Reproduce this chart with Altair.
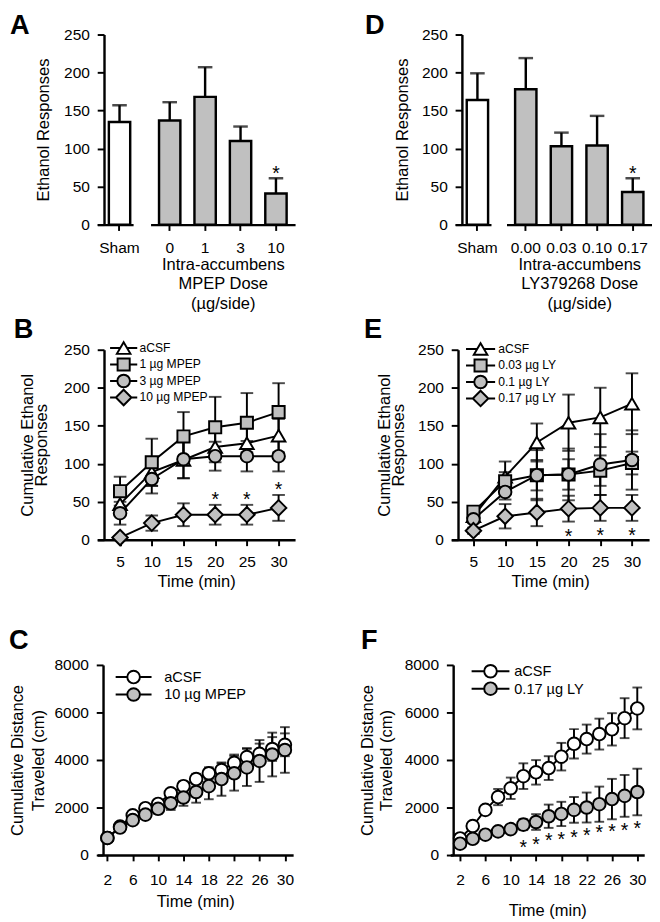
import altair as alt
import pandas as pd

FONT = "Liberation Sans"
GRAY = "#c0c0c0"

# ---------------- Panel A : MPEP dose response ----------------
a_cats = ["Sham", "0", "1", "3", "10"]
a_mean = [135, 137, 168, 110, 41]
a_sem = [22, 24, 39, 19, 20]
a_sig = [False, False, False, False, True]

# ---------------- Panel D : LY379268 dose response ----------------
d_cats = ["Sham", "0.00", "0.03", "0.10", "0.17"]
d_mean = [164, 178, 103, 104, 43]
d_sem = [35, 41, 18, 39, 18]
d_sig = [False, False, False, False, True]

# ---------------- Panel B : cumulative responses, MPEP ----------------
b_time = [5, 10, 15, 20, 25, 30]
b_series = ["aCSF", "1 µg MPEP", "3 µg MPEP", "10 µg MPEP"]
b_acsf_mean = [47, 89, 105, 122, 127, 137]
b_acsf_sem = [12, 18, 24, 20, 20, 22]
b_1_mean = [64, 102, 136, 148, 154, 168]
b_1_sem = [19, 31, 32, 40, 39, 38]
b_3_mean = [35, 80, 106, 110, 110, 110]
b_3_sem = [15, 19, 25, 19, 20, 20]
b_10_mean = [3, 22, 33, 33, 33, 42]
b_10_sem = [2, 10, 15, 13, 13, 17]
b_sig_series = "10 µg MPEP"
b_sig_time = [20, 25, 30]

# ---------------- Panel E : cumulative responses, LY ----------------
e_time = [5, 10, 15, 20, 25, 30]
e_series = ["aCSF", "0.03 µg LY", "0.1 µg LY", "0.17 µg LY"]
e_acsf_mean = [31, 83, 128, 154, 161, 179]
e_acsf_sem = [6, 20, 25, 37, 39, 40]
e_003_mean = [37, 77, 85, 86, 91, 101]
e_003_sem = [5, 12, 20, 20, 20, 15]
e_01_mean = [27, 63, 85, 86, 99, 105]
e_01_sem = [5, 10, 33, 34, 40, 39]
e_017_mean = [12, 31, 36, 41, 42, 42]
e_017_sem = [4, 16, 18, 17, 17, 17]
e_sig_series = "0.17 µg LY"
e_sig_time = [20, 25, 30]

# ---------------- Panel C : locomotion, MPEP ----------------
c_time = [2, 4, 6, 8, 10, 12, 14, 16, 18, 20, 22, 24, 26, 28, 30]
c_series = ["aCSF", "10 µg MPEP"]
c_acsf_mean = [720, 1197, 1673, 1973, 2150, 2599, 2898, 3197, 3442, 3578, 3878, 4122, 4259, 4463, 4640]
c_acsf_sem = [60, 80, 100, 120, 150, 180, 200, 220, 250, 280, 350, 380, 430, 500, 480]
c_mpep_mean = [720, 1156, 1469, 1701, 1946, 2177, 2422, 2653, 2898, 3197, 3442, 3687, 3959, 4231, 4422]
c_mpep_sem = [80, 100, 120, 150, 200, 280, 350, 450, 550, 700, 730, 780, 880, 920, 960]

# ---------------- Panel F : locomotion, LY ----------------
f_time = [2, 4, 6, 8, 10, 12, 14, 16, 18, 20, 22, 24, 26, 28, 30]
f_series = ["aCSF", "0.17 µg LY"]
f_acsf_mean = [700, 1220, 1900, 2440, 2810, 3320, 3480, 3660, 4140, 4680, 4880, 5090, 5290, 5760, 6170]
f_acsf_sem = [60, 80, 120, 340, 450, 540, 515, 500, 580, 620, 610, 650, 680, 840, 880]
f_ly_mean = [478, 682, 857, 996, 1090, 1280, 1390, 1633, 1730, 1900, 2000, 2140, 2355, 2490, 2653]
f_ly_sem = [50, 60, 80, 120, 150, 230, 330, 490, 510, 545, 630, 740, 850, 880, 980]
f_star_time = [12, 14, 16, 18, 20, 22, 24, 26, 28, 30]
f_star_level = [550, 680, 820, 890, 955, 1050, 1160, 1220, 1265, 1320]

# ---------------- marker shapes (unit = 5 px at size 100) ----------------
TRI = "M0,-1.2L1.4,1.2L-1.4,1.2Z"
SQR = "M-1.25,-1.25H1.25V1.25H-1.25Z"
CIR = ("M1.3,0C1.3,0.718,0.718,1.3,0,1.3C-0.718,1.3,-1.3,0.718,-1.3,0"
       "C-1.3,-0.718,-0.718,-1.3,0,-1.3C0.718,-1.3,1.3,-0.718,1.3,0Z")
DIA = "M0,-1.6L1.6,0L0,1.6L-1.6,0Z"


def with_line(marker, half, reach):
    return f"M-{reach},0H-{half}M{half},0H{reach}" + marker


def title_letter(letter, dx, off):
    return alt.TitleParams(letter, anchor="start", frame="group", dx=dx, offset=off,
                           fontSize=28, fontWeight="bold", font=FONT, color="black")


# ---------------- bar panels ----------------
def bar_pair(cats, means, sems, sig, letter, letter_dx, letter_off, xtitle, yoff, inner_space, dose_w,
             ytitle_pad):
    df = pd.DataFrame({"cat": cats, "mean": means, "sem": sems, "sig": sig})
    df["hi"] = df["mean"] + df["sem"]
    yscale = alt.Scale(domain=[0, 250], nice=False)

    def build(data, fill, xscale, xaxis, yaxis, width):
        xenc = alt.X("cat:N", sort=list(data["cat"]), scale=xscale, axis=xaxis)
        base = alt.Chart(data).encode(x=xenc)
        err = base.mark_rule(color="black", strokeWidth=2.5).encode(
            y=alt.Y("mean:Q", scale=yscale, axis=yaxis), y2="hi:Q")
        cap = base.mark_tick(orient="horizontal", color="black", thickness=2.5, size=15).encode(
            y=alt.Y("hi:Q", scale=yscale, axis=yaxis))
        bar = base.mark_bar(size=22, fill=fill, stroke="black", strokeWidth=2.5).encode(
            y=alt.Y("mean:Q", scale=yscale, axis=yaxis))
        star = base.transform_filter("datum.sig").mark_text(
            text="*", fontSize=20, font=FONT, baseline="middle", dy=-4, color="black").encode(
            y=alt.Y("hi:Q", scale=yscale, axis=yaxis))
        return alt.layer(err, cap, bar, star).properties(width=width, height=196)

    sham = build(
        df.iloc[:1], "white",
        alt.Scale(paddingInner=0, paddingOuter=0.5, align=0.743),
        alt.Axis(title=None, labelAngle=0, tickSize=6, labelPadding=10, labelOverlap=False),
        alt.Axis(values=[0, 50, 100, 150, 200, 250], title="Ethanol Responses", offset=yoff,
                 tickSize=7, labelPadding=8, titlePadding=ytitle_pad, labelOverlap=False),
        37,
    ).properties(title=title_letter(letter, letter_dx, letter_off))
    dose = build(
        df.iloc[1:], GRAY,
        alt.Scale(paddingInner=0, paddingOuter=0.04),
        alt.Axis(title=xtitle, labelAngle=0, tickSize=6, labelPadding=10, labelOverlap=False,
                 titlePadding=1, titleLineHeight=20),
        None,
        dose_w,
    )
    return alt.hconcat(sham, dose, spacing=inner_space)


# ---------------- line panels ----------------
def line_panel(time, series, means, sems, shapes, fills, legend_paths, xdom, xticks, ydom, yticks,
               ytitle, ytitle_lh, ytitle_pad, yoff, width, capw, letter, letter_dx, letter_off,
               legend_x, legend_y, legend_font, legend_row, label_off, x_lab_pad, x_title_pad,
               star_series=None, star_time=None, star_side="hi", star_levels=None):
    rows = []
    for s, m_list, e_list in zip(series, means, sems):
        for t, m, e in zip(time, m_list, e_list):
            rows.append({"series": s, "t": t, "mean": m, "sem": e})
    df = pd.DataFrame(rows)
    df["lo"] = df["mean"] - df["sem"]
    df["hi"] = df["mean"] + df["sem"]

    xs = alt.Scale(domain=xdom, nice=False, zero=False)
    ys = alt.Scale(domain=ydom, nice=False)
    xaxis = alt.Axis(values=xticks, title="Time (min)", tickSize=6, labelPadding=x_lab_pad,
                     titlePadding=x_title_pad, labelFlush=False, labelOverlap=False)
    yaxis = alt.Axis(values=yticks, title=ytitle, titleLineHeight=ytitle_lh, titlePadding=ytitle_pad,
                     offset=yoff, tickSize=7, labelPadding=8, format="d", labelOverlap=False)

    def X():
        return alt.X("t:Q", scale=xs, axis=xaxis)

    def Y(field):
        return alt.Y(field, scale=ys, axis=yaxis)

    leg = alt.Legend(
        title=None, orient="none", legendX=legend_x, legendY=legend_y,
        symbolSize=100, labelFontSize=legend_font, labelFont=FONT, labelColor="black",
        rowPadding=legend_row, labelOffset=label_off, padding=0,
        symbolStrokeColor="black", symbolStrokeWidth=2, symbolOpacity=1,
    )

    base = alt.Chart(df).encode(x=X())
    line = base.mark_line(color="black", strokeWidth=2).encode(y=Y("mean:Q"), detail="series:N")
    rule = base.mark_rule(color="black", strokeWidth=2).encode(y=Y("lo:Q"), y2="hi:Q")
    cap_lo = base.mark_tick(orient="horizontal", color="black", thickness=2, size=capw).encode(y=Y("lo:Q"))
    cap_hi = base.mark_tick(orient="horizontal", color="black", thickness=2, size=capw).encode(y=Y("hi:Q"))
    pts = base.mark_point(filled=True, stroke="black", strokeWidth=2, opacity=1, size=100).encode(
        y=Y("mean:Q"),
        shape=alt.Shape("series:N", scale=alt.Scale(domain=series, range=shapes), legend=None),
        fill=alt.Fill("series:N", scale=alt.Scale(domain=series, range=fills), legend=None),
    )
    legend_layer = base.transform_filter("false").mark_point(
        filled=True, strokeWidth=2, opacity=1, size=100).encode(
        y=Y("mean:Q"),
        shape=alt.Shape("series:N", scale=alt.Scale(domain=series, range=legend_paths), legend=leg),
        fill=alt.Fill("series:N", scale=alt.Scale(domain=series, range=fills), legend=leg),
        stroke=alt.Stroke("series:N", scale=alt.Scale(domain=series, range=["black"] * len(series)),
                          legend=leg),
    )
    layers = [line, rule, cap_lo, cap_hi, pts, legend_layer]
    if star_series is not None:
        sdf = df[(df["series"] == star_series) & (df["t"].isin(star_time))]
        if star_side == "hi":
            st = alt.Chart(sdf).mark_text(text="*", fontSize=20, font=FONT, baseline="middle",
                                          dy=-5, color="black").encode(x=X(), y=Y("hi:Q"))
        else:
            st = alt.Chart(sdf).mark_text(text="*", fontSize=20, font=FONT, baseline="middle",
                                          dy=16, color="black").encode(x=X(), y=Y("lo:Q"))
        layers.append(st)
    if star_levels is not None:
        sdf = pd.DataFrame({"t": star_time, "level": star_levels})
        st = alt.Chart(sdf).mark_text(text="*", fontSize=20, font=FONT, baseline="middle",
                                      dy=6, color="black").encode(x=X(), y=Y("level:Q"))
        layers.append(st)
    return alt.layer(*layers).resolve_scale(
        shape="independent", fill="independent", stroke="independent").properties(
        width=width, height=196, title=title_letter(letter, letter_dx, letter_off))


rowA = bar_pair(a_cats, a_mean, a_sem, a_sig, "A", -90, -13,
                ["Intra-accumbens", "MPEP Dose", "(µg/side)"], -7, 11, 149, 12)
rowD = bar_pair(d_cats, d_mean, d_sem, d_sig, "D", -93, -13,
                ["Intra-accumbens", "LY379268 Dose", "(µg/side)"], -7, 9, 150, 10)
row1 = alt.hconcat(rowA, rowD, spacing=72)

B = line_panel(b_time, b_series, [b_acsf_mean, b_1_mean, b_3_mean, b_10_mean],
               [b_acsf_sem, b_1_sem, b_3_sem, b_10_sem],
               [TRI, SQR, CIR, DIA], ["white", GRAY, GRAY, GRAY],
               [with_line(TRI, 0.7, 2.8), with_line(SQR, 1.25, 2.8), with_line(CIR, 1.3, 2.8),
                with_line(DIA, 1.6, 2.8)],
               [1.4, 32.6], [5, 10, 15, 20, 25, 30], [0, 250], [0, 50, 100, 150, 200, 250],
               ["Cumulative Ethanol", "Responses"], 14, 14, -7, 204, 13, "B", -86, -2,
               21, -8, 12.5, -8, 10, 9, 4,
               star_series=b_sig_series, star_time=b_sig_time, star_side="hi")
E = line_panel(e_time, e_series, [e_acsf_mean, e_003_mean, e_01_mean, e_017_mean],
               [e_acsf_sem, e_003_sem, e_01_sem, e_017_sem],
               [TRI, SQR, CIR, DIA], ["white", GRAY, GRAY, GRAY],
               [with_line(TRI, 0.7, 3.0), with_line(SQR, 1.25, 3.0), with_line(CIR, 1.3, 3.0),
                with_line(DIA, 1.6, 3.0)],
               [1.5, 32.7], [5, 10, 15, 20, 25, 30], [0, 250], [0, 50, 100, 150, 200, 250],
               ["Cumulative Ethanol", "Responses"], 14, 11, -7, 204, 13, "E", -90, -2,
               24, -7, 12.5, -8, 12, 9, 4,
               star_series=e_sig_series, star_time=e_sig_time, star_side="lo")
row2 = alt.hconcat(B, E, spacing=71)

C = line_panel(c_time, c_series, [c_acsf_mean, c_mpep_mean], [c_acsf_sem, c_mpep_sem],
               [CIR, CIR], ["white", GRAY],
               [with_line(CIR, 1.3, 3.7), with_line(CIR, 1.3, 3.7)],
               [0.4, 31.3], [2, 6, 10, 14, 18, 22, 26, 30], [0, 8000], [0, 2000, 4000, 6000, 8000],
               ["Cumulative Distance", "Traveled (cm)"], 21, 7, -6, 202, 10, "C", -91, 2,
               30, 5, 15, -10, 24, 11, 7)
F = line_panel(f_time, f_series, [f_acsf_mean, f_ly_mean], [f_acsf_sem, f_ly_sem],
               [CIR, CIR], ["white", GRAY],
               [with_line(CIR, 1.3, 3.9), with_line(CIR, 1.3, 3.9)],
               [0.45, 31.1], [2, 6, 10, 14, 18, 22, 26, 30], [0, 8000], [0, 2000, 4000, 6000, 8000],
               ["Cumulative Distance", "Traveled (cm)"], 20, 9, -3, 200, 10, "F", -92, 2,
               34, -1, 15, -6, 17, 11, 16,
               star_time=f_star_time, star_levels=f_star_level)
row3 = alt.hconcat(C, F, spacing=64)

chart = alt.vconcat(alt.vconcat(row1, row2, spacing=6), row3, spacing=40).properties(
    padding={"left": 1, "top": -10, "right": 0, "bottom": 0}
).configure_axis(
    domainColor="black", domainWidth=2.5, tickColor="black", tickWidth=2,
    labelColor="black", titleColor="black", labelFont=FONT, titleFont=FONT,
    labelFontSize=16, titleFontSize=17, titleFontWeight="normal", grid=False,
    labelOverlap=False,
).configure_view(stroke=None).configure_legend(labelFont=FONT, symbolStrokeColor="black",
                                               symbolStrokeWidth=2)

chart.save("out.html", embed_options={"renderer": "svg", "actions": False})
